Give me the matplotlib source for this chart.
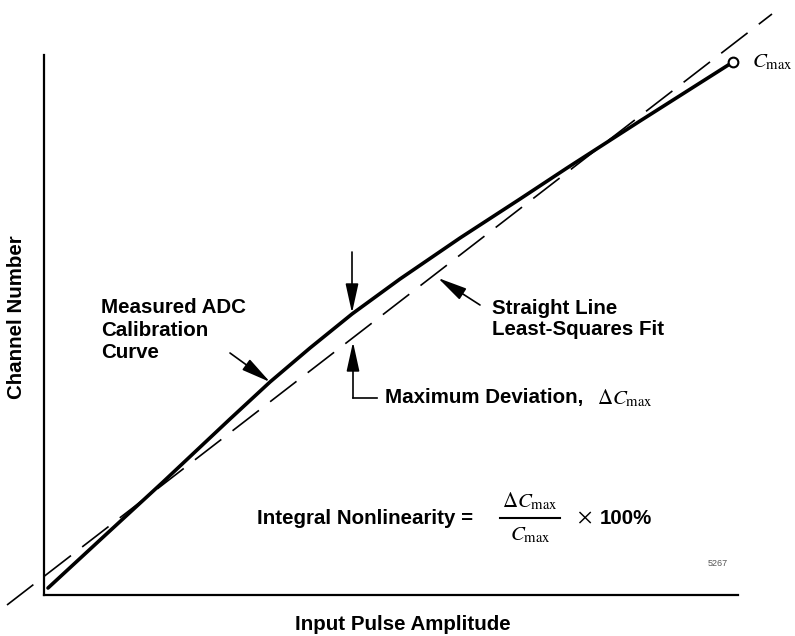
import matplotlib.pyplot as plt

plt.rcParams['font.family'] = 'Liberation Sans'
plt.rcParams['mathtext.fontset'] = 'stix'

# --- data (axes units: input amplitude vs channel) ---
amplitude = [4, 56, 119, 186, 226, 266, 308, 356, 416, 476, 523, 596, 689]
channel = [7, 55, 113, 176, 213, 247, 281, 316, 357, 396, 427, 474, 533]

fit_x = [-37, 728]
fit_y = [-10, 581]

# --- figure ---
fig = plt.figure(figsize=(7.95, 6.36), dpi=100)
ax = fig.add_axes([44 / 795, 41 / 636, 694 / 795, 540 / 636])
ax.set_xlim(0, 694)
ax.set_ylim(0, 540)
for s in ['top', 'right']:
    ax.spines[s].set_visible(False)
for s in ['left', 'bottom']:
    ax.spines[s].set_linewidth(1.6)
ax.set_xticks([])
ax.set_yticks([])

# straight line fit (extends past the axes)
ax.plot(fit_x, fit_y, color='black', lw=1.2, linestyle=(0, (20, 8.5)), clip_on=False)
# measured curve
ax.plot(amplitude, channel, color='black', lw=2.6, solid_capstyle='round',
        solid_joinstyle='round', clip_on=False)
ax.plot(amplitude[-1], channel[-1], marker='o', ms=7, mfc='white', mec='black', mew=1.5,
        clip_on=False)
ax.text(amplitude[-1] + 19, channel[-1], r'$C_{\max}$', fontsize=15, ha='left', va='center')

arrow = dict(arrowstyle='-|>,head_length=1.0,head_width=0.22', color='black', lw=1.2,
             mutation_scale=18, shrinkA=0, shrinkB=0)
fs = 14.8

ax.annotate('', xy=(226, 213), xytext=(186, 242), arrowprops=arrow)
ax.text(57, 265, 'Measured ADC\nCalibration\nCurve', fontsize=fs, fontweight='bold',
        ha='left', va='center', linespacing=1.25)

ax.annotate('', xy=(394, 317), xytext=(436, 290), arrowprops=arrow)
ax.text(448, 276, 'Straight Line\nLeast-Squares Fit', fontsize=fs, fontweight='bold',
        ha='left', va='center', linespacing=1.15)

# maximum deviation markers
ax.annotate('', xy=(308, 282), xytext=(308, 343), arrowprops=arrow)
ax.annotate('', xy=(309, 253), xytext=(309, 197), arrowprops=arrow)
ax.plot([309, 333], [197, 197], color='black', lw=1.2)
ax.text(341, 197, 'Maximum Deviation,', fontsize=fs, fontweight='bold', ha='left', va='center')
ax.text(553, 197, r'$\Delta C_{\max}$', fontsize=15, ha='left', va='center')

# equation
ax.text(429, 77, 'Integral Nonlinearity =', fontsize=fs, fontweight='bold', ha='right',
        va='center')
ax.plot([456, 516], [77, 77], color='black', lw=1.5)
ax.text(486, 94, r'$\Delta C_{\max}$', fontsize=15, ha='center', va='center')
ax.text(486, 60, r'$C_{\max}$', fontsize=15, ha='center', va='center')
ax.text(541, 77, r'$\times$', fontsize=16, ha='center', va='center')
ax.text(556, 77, '100%', fontsize=fs, fontweight='bold', ha='left', va='center')

ax.text(674, 32, '5267', fontsize=6.5, color='#555555', ha='center', va='center')

fig.text(17 / 795, 1 - 317 / 636, 'Channel Number', fontsize=fs, fontweight='bold',
         rotation=90, ha='center', va='center')
fig.text(403 / 795, 1 - 625 / 636, 'Input Pulse Amplitude', fontsize=fs, fontweight='bold',
         ha='center', va='center')

fig.savefig('out.png', dpi=100, facecolor='white')
